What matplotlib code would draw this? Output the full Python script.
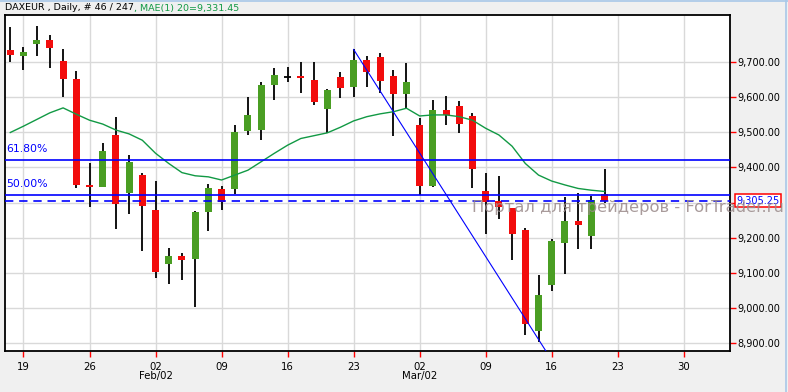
import matplotlib
matplotlib.use("Agg")
import matplotlib.pyplot as plt
from matplotlib.lines import Line2D
import pandas as pd
import numpy as np

# ---------------- data ----------------
opens = [9733, 9717, 9751, 9762, 9702, 9651, 9351, 9345, 9492, 9328,
         9378, 9279, 9126, 9148, 9140, 9274, 9338, 9339, 9504, 9507,
         9634, 9657, 9659, 9648, 9566, 9657, 9629, 9705, 9713, 9659,
         9608, 9520, 9348, 9563, 9574, 9546, 9333, 9304, 9285, 9222,
         8935, 9066, 9186, 9247, 9205, 9323]
highs = [9799, 9741, 9801, 9776, 9735, 9674, 9411, 9468, 9543, 9435,
         9383, 9361, 9171, 9157, 9276, 9353, 9347, 9520, 9600, 9643,
         9682, 9685, 9699, 9699, 9624, 9672, 9735, 9716, 9725, 9676,
         9697, 9541, 9591, 9603, 9588, 9554, 9383, 9375, 9285, 9227,
         9094, 9196, 9316, 9326, 9319, 9395]
lows = [9700, 9676, 9716, 9683, 9600, 9342, 9288, 9343, 9224, 9268,
        9163, 9086, 9069, 9081, 9004, 9220, 9279, 9324, 9492, 9478,
        9591, 9643, 9611, 9577, 9499, 9597, 9600, 9629, 9610, 9490,
        9568, 9321, 9345, 9520, 9498, 9342, 9211, 9253, 9137, 8924,
        8903, 9049, 9097, 9168, 9169, 9300]
closes = [9720, 9728, 9762, 9739, 9652, 9351, 9345, 9446, 9297, 9415,
          9291, 9103, 9148, 9137, 9273, 9341, 9302, 9500, 9549, 9634,
          9662, 9657, 9654, 9586, 9620, 9625, 9705, 9672, 9645, 9608,
          9642, 9348, 9563, 9549, 9524, 9396, 9301, 9286, 9211, 8955,
          9037, 9190, 9247, 9237, 9307, 9305.25]
ma20 = [9499, 9517, 9536, 9555, 9569, 9551, 9534, 9523, 9506, 9495,
        9477, 9440, 9411, 9385, 9376, 9373, 9364, 9378, 9392, 9416,
        9440, 9463, 9482, 9490, 9498, 9514, 9532, 9544, 9552, 9558,
        9568, 9546, 9549, 9549, 9544, 9534, 9511, 9492, 9460, 9411,
        9378, 9361, 9350, 9340, 9335, 9331.45]
fib_levels = [9420, 9321]
fib_labels = ["61.80%", "50.00%"]
last_price = 9305.25
trend_x = [26, 41]
trend_y = [9735, 8852]
y_ticks = [8900, 9000, 9100, 9200, 9300, 9400, 9500, 9600, 9700]
month_labels = {"2015-02-02": "Feb/02", "2015-03-02": "Mar/02"}
title_main = "DAXEUR , Daily, # 46 / 247"
title_ma = ", MAE(1) 20=9,331.45"
watermark = "Портал для трейдеров - ForTrader.ru"

# trading days (bars) plus future days for the axis
all_days = pd.bdate_range("2015-01-16", "2015-04-03")
n = len(opens)
idx = np.arange(n)

W, H = 788, 392
fig = plt.figure(figsize=(W / 100, H / 100), dpi=100, facecolor="#f0f0f0")
ax = fig.add_axes([5 / W, 41 / H, 725 / W, 336 / H])
ax.set_facecolor("white")

RED = "#f20d0d"
GREEN = "#4a9e23"

# wicks
ax.vlines(idx, lows, highs, color="black", lw=1.3, zorder=3)
# bodies
o = np.array(opens, float)
c = np.array(closes, float)
cols = [GREEN if cc > oo else (RED if cc < oo else "black") for oo, cc in zip(o, c)]
bw = 0.53
bottoms = np.minimum(o, c)
heights = np.abs(c - o)
ax.bar(idx, heights, bottom=bottoms, width=bw, color=cols, lw=0, zorder=4)
for i in idx:
    if heights[i] == 0:
        ax.hlines(o[i], i - bw / 2, i + bw / 2, color="black", lw=1.3, zorder=4)

# moving average
ax.plot(idx, ma20, color="#119944", lw=1.0, zorder=5)

# fib levels
for lvl, lab in zip(fib_levels, fib_labels):
    ax.axhline(lvl, color="#0000ff", lw=1.2, zorder=6)
    ax.annotate(lab, xy=(0, lvl), xycoords=("axes fraction", "data"),
                xytext=(1, 6), textcoords="offset pixels", color="#0000ff",
                fontsize=7.8, va="bottom", ha="left", zorder=7)

# last price dashed
ax.axhline(last_price, color="#0000ff", lw=1.2, ls=(0, (5, 3.5)), zorder=6)

# trend line
ax.plot(trend_x, trend_y, color="#0000ff", lw=0.8, zorder=6)

ax.set_xlim(-0.4, 54.5)
ax.set_ylim(8878, 9833)

# x ticks on Mondays
mondays = [i for i, d in enumerate(all_days) if d.weekday() == 0]
ax.set_xticks(mondays)
ax.set_xticklabels([all_days[i].strftime("%d") for i in mondays])
ax.set_yticks(y_ticks)
ax.set_yticklabels(["{:,.2f}".format(v) for v in y_ticks])
ax.yaxis.tick_right()
ax.tick_params(axis="both", colors="red", length=4, width=1, labelcolor="black",
               labelsize=7.0)
ax.tick_params(axis="x", pad=4, labelsize=7.3)
ax.tick_params(axis="y", pad=1.0)
ax.grid(True, color="#d9d9d9", lw=1)
ax.set_axisbelow(True)
for s in ax.spines.values():
    s.set_color("black")
    s.set_linewidth(1.3)

for dstr, lab in month_labels.items():
    pos = list(all_days).index(pd.Timestamp(dstr))
    ax.annotate(lab, xy=(pos, 0), xycoords=("data", "axes fraction"),
                xytext=(0, -25), textcoords="offset pixels", ha="center",
                va="center", fontsize=7.3, color="black")

# last price box
ax.annotate("{:,.2f}".format(last_price), xy=(1, last_price),
            xycoords=("axes fraction", "data"), xytext=(6, 0),
            textcoords="offset pixels", ha="left", va="center", fontsize=7.0,
            color="#0000ff", annotation_clip=False,
            bbox=dict(boxstyle="square,pad=0.15", fc="white", ec="red", lw=1.1))

# watermark
fig.text(472 / W, 1 - 212 / H, watermark, fontsize=11.8, color="#9a8a8a",
         alpha=0.85, ha="left", va="baseline", zorder=20)

# title
t1 = fig.text(5 / W, 1 - 8 / H, title_main, fontsize=6.8, color="black",
              ha="left", va="center")
fig.canvas.draw()
bb = t1.get_window_extent(renderer=fig.canvas.get_renderer())
fig.text(bb.x1 / W, 1 - 8 / H, title_ma, fontsize=6.8, color="#119944",
         ha="left", va="center")

# window border lines
fig.add_artist(Line2D([0, 1], [1 - 0.5 / H, 1 - 0.5 / H], color="#a8c8e8", lw=1.2,
                      transform=fig.transFigure))
fig.add_artist(Line2D([785.5 / W, 785.5 / W], [0, 1], color="#a8c8e8", lw=1.2,
                      transform=fig.transFigure))

fig.savefig("out.png", dpi=100, facecolor=fig.get_facecolor())
